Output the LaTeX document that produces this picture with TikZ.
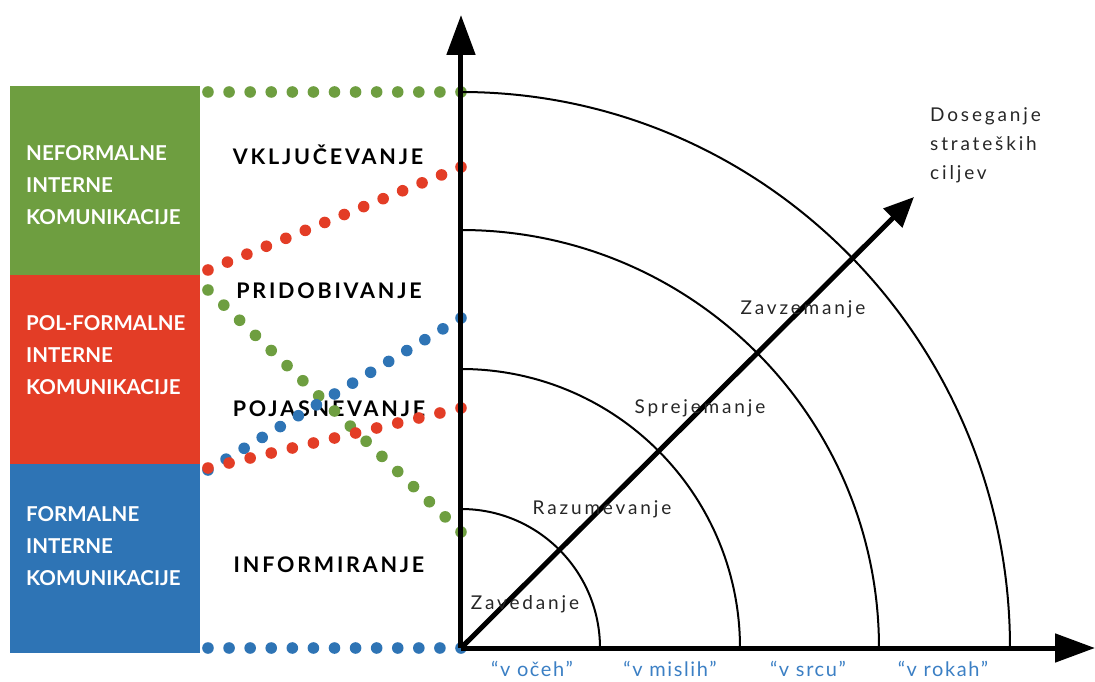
\documentclass[tikz,border=0pt]{standalone}
\usepackage{fontspec}
\setmainfont{Lato}
\usetikzlibrary{arrows.meta,positioning,calc}
\definecolor{ikgreen}{HTML}{6E9E40}
\definecolor{ikred}{HTML}{E33D26}
\definecolor{ikblue}{HTML}{2E74B5}
\definecolor{lvlblue}{HTML}{3B7FC4}
\tikzset{
  commbox/.style={rectangle,fill=#1,minimum width=190pt,minimum height=189pt,
    inner sep=0pt,anchor=north west},
  commtext/.style={text=white,font=\fontsize{20.5}{32}\selectfont\bfseries,
    align=left,anchor=west,inner sep=0pt},
  stage/.style={font=\fontsize{21.5}{25}\selectfont\bfseries\addfontfeatures{LetterSpace=13}},
  ring/.style={line width=2pt},
  ringlabel/.style={font=\fontsize{19}{29}\selectfont\addfontfeatures{LetterSpace=15},
    text=black!85,inner sep=0pt},
  axis/.style={line width=5pt,-{Triangle[length=40pt,width=28pt]}},
  goal/.style={line width=5pt,-{Triangle[length=30pt,width=26pt]}},
  level/.style={font=\fontsize{20}{22}\selectfont\addfontfeatures{LetterSpace=8},
    text=lvlblue,anchor=base},
}
% row of round dots between two named points
\newcommand\dotrow[4]{%
  \foreach \k in {0,...,#4}{\fill[#1] ($(#2)!\k/#4!(#3)$) circle (5.8pt);}}

\begin{document}
\begin{tikzpicture}[x=1pt,y=1pt]
  \useasboundingbox (-461,-33) rectangle (634,648);
  \coordinate (O) at (0,0);

  % communication types
  \node[commbox=ikgreen] (neform) at (-451,562) {};
  \node[commbox=ikred]   (polform) at (-451,373) {};
  \node[commbox=ikblue]  (form) at (-451,184) {};
  \node[commtext] (neformtxt) at (-435,463) {NEFORMALNE\\INTERNE\\KOMUNIKACIJE};
  \node[commtext] (polformtxt) at (-435,293) {POL-FORMALNE\\INTERNE\\KOMUNIKACIJE};
  \node[commtext] (formtxt) at (-435,102) {FORMALNE\\INTERNE\\KOMUNIKACIJE};

  % stages
  \node[stage] (vklj) at (-133,493) {VKLJUČEVANJE};
  \node[stage] (prid) at (-132,357) {PRIDOBIVANJE};
  \node[stage] (poja) at (-132,239) {POJASNEVANJE};
  \node[stage] (info) at (-132,83)  {INFORMIRANJE};

  % dotted links
  \coordinate (gA) at (-253,556); \coordinate (gB) at (0,556);
  \coordinate (bA) at (-253,0);   \coordinate (bB) at (0,0);
  \coordinate (rA) at (-253,378); \coordinate (rB) at (0,481);
  \coordinate (hA) at (-253,358); \coordinate (hB) at (0,116);
  \coordinate (cA) at (-253,178); \coordinate (cB) at (0,330);
  \coordinate (sA) at (-253,180); \coordinate (sB) at (0,240);
  \dotrow{ikgreen}{gA}{gB}{12}
  \dotrow{ikblue}{bA}{bB}{12}
  \dotrow{ikred}{rA}{rB}{13}
  \dotrow{ikgreen}{hA}{hB}{16}
  \dotrow{ikblue}{cA}{cB}{14}
  \dotrow{ikred}{sA}{sB}{12}

  % rings
  \draw[ring] (139,0) arc[start angle=0,end angle=90,radius=139];
  \draw[ring] (279,0) arc[start angle=0,end angle=90,radius=279];
  \draw[ring] (418,0) arc[start angle=0,end angle=90,radius=418];
  \draw[ring] (549,0) arc[start angle=0,end angle=90,x radius=549,y radius=556];

  % axes
  \coordinate (ytip) at (0,633);
  \coordinate (xtip) at (634,0);
  \coordinate (gtip) at (453,451);
  \draw[axis] (O) -- (ytip);
  \draw[axis] (O) -- (xtip);
  \draw[goal] (O) -- (gtip);

  \node[ringlabel] (zaved) at (64,44)   {Zavedanje};
  \node[ringlabel] (razum) at (141,139) {Razumevanje};
  \node[ringlabel] (sprej) at (239,240) {Sprejemanje};
  \node[ringlabel] (zavze) at (342,339) {Zavzemanje};
  \node[ringlabel,align=left,anchor=north west] (doseg) at (469,541)
    {Doseganje\\strateških\\ciljev};

  \node[level] (oceh)  at (71,-28)  {“v očeh”};
  \node[level] (mislih) at (209,-28) {“v mislih”};
  \node[level] (srcu)  at (347,-28) {“v srcu”};
  \node[level] (rokah) at (482,-28) {“v rokah”};
\end{tikzpicture}
\end{document}
